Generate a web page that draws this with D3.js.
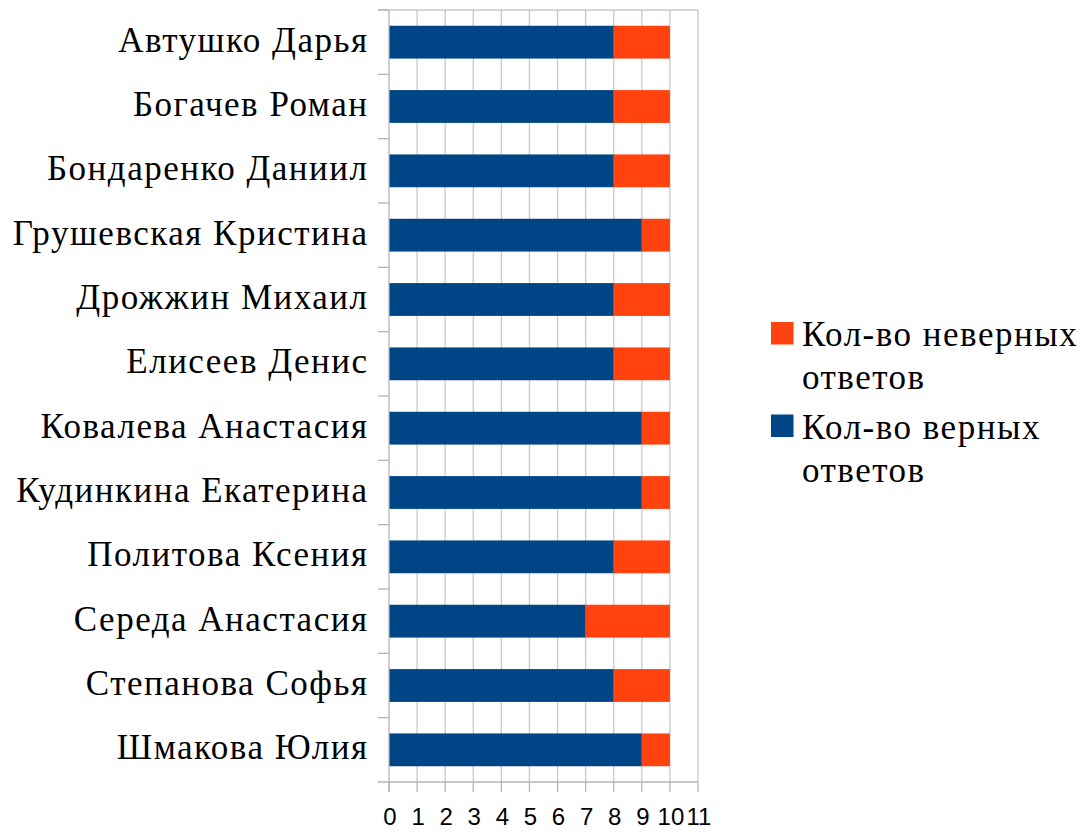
<!DOCTYPE html>
<html><head><meta charset="utf-8">
<script src="https://cdn.jsdelivr.net/npm/d3@7"></script>
<style>body{margin:0;background:#fff}svg{display:block}</style>
</head><body>
<svg id="c" width="1087" height="833"></svg>
<script>
const names = ["Автушко Дарья","Богачев Роман","Бондаренко Даниил","Грушевская Кристина","Дрожжин Михаил","Елисеев Денис","Ковалева Анастасия","Кудинкина Екатерина","Политова Ксения","Середа Анастасия","Степанова Софья","Шмакова Юлия"];
const correct = [8,8,8,9,8,8,9,9,8,7,8,9];
const wrong = [2,2,2,1,2,2,1,1,2,3,2,1];
const xTicks = [0,1,2,3,4,5,6,7,8,9,10,11];
const colors = {correct:"#004586", wrong:"#ff420e"};

const svg = d3.select("#c");
const L=389, R=698, T=10, B=782;
const x = d3.scaleLinear().domain([0,11]).range([L,R]);
const y = d3.scaleBand().domain(names).range([T,B]).paddingInner(0.49).paddingOuter(0.245);
const yb = d3.scaleBand().domain(names).range([T,B]);

// grid
svg.append("g").selectAll("line").data(xTicks.slice(1)).join("line")
  .attr("x1",d=>x(d)).attr("x2",d=>x(d)).attr("y1",T).attr("y2",B)
  .attr("stroke","#c8c8c8").attr("stroke-width",1.3);
svg.append("line").attr("x1",L-11).attr("x2",R).attr("y1",T).attr("y2",T).attr("stroke","#c8c8c8").attr("stroke-width",1.3);

const data = names.map((n,i)=>({name:n,correct:correct[i],wrong:wrong[i]}));
const stack = d3.stack().keys(["correct","wrong"])(data);
svg.append("g").selectAll("g").data(stack).join("g").attr("fill",d=>colors[d.key])
  .selectAll("rect").data(d=>d).join("rect")
  .attr("x",d=>x(d[0])).attr("width",d=>x(d[1])-x(d[0]))
  .attr("y",d=>y(d.data.name)).attr("height",y.bandwidth());

// y axis
svg.append("line").attr("x1",L).attr("x2",L).attr("y1",T).attr("y2",B+10).attr("stroke","#b4b4b4").attr("stroke-width",1.3);
svg.append("g").selectAll("line").data(names).join("line")
  .attr("x1",L-11).attr("x2",L).attr("y1",d=>yb(d)).attr("y2",d=>yb(d))
  .attr("stroke","#b4b4b4").attr("stroke-width",1.3);
svg.append("g").selectAll("text").data(names).join("text")
  .attr("x",368.5).attr("y",d=>yb(d)+yb.bandwidth()/2).attr("dy",9.5)
  .attr("text-anchor","end").attr("font-family","Liberation Serif").attr("font-size",35)
  .attr("letter-spacing",1.5).attr("fill","#000").text(d=>d);

// x axis
svg.append("line").attr("x1",L-11).attr("x2",R).attr("y1",B).attr("y2",B).attr("stroke","#b4b4b4").attr("stroke-width",1.3);
svg.append("g").selectAll("line").data(xTicks).join("line")
  .attr("x1",d=>x(d)).attr("x2",d=>x(d)).attr("y1",B).attr("y2",B+10)
  .attr("stroke","#b4b4b4").attr("stroke-width",1.3);
svg.append("g").selectAll("text").data(xTicks).join("text")
  .attr("x",d=>x(d)+1).attr("y",825).attr("text-anchor","middle")
  .attr("font-family","Liberation Sans").attr("font-size",24).attr("fill","#000").text(d=>d);

// legend
const leg = [
  {lines:["Кол-во неверных","ответов"], color:colors.wrong, y:322},
  {lines:["Кол-во верных","ответов"], color:colors.correct, y:414.5}
];
leg.forEach((l,i)=>{
  svg.append("rect").attr("x",771).attr("y",l.y).attr("width",22.5).attr("height",22.5).attr("fill",l.color);
  const t = svg.append("text").attr("x",802).attr("y",l.y+24).attr("font-family","Liberation Serif").attr("font-size",35).attr("letter-spacing",1.5).attr("fill","#000");
  l.lines.forEach((s,j)=>t.append("tspan").attr("x",802).attr("dy",j?43:0).text(s));
});
</script>
</body></html>
